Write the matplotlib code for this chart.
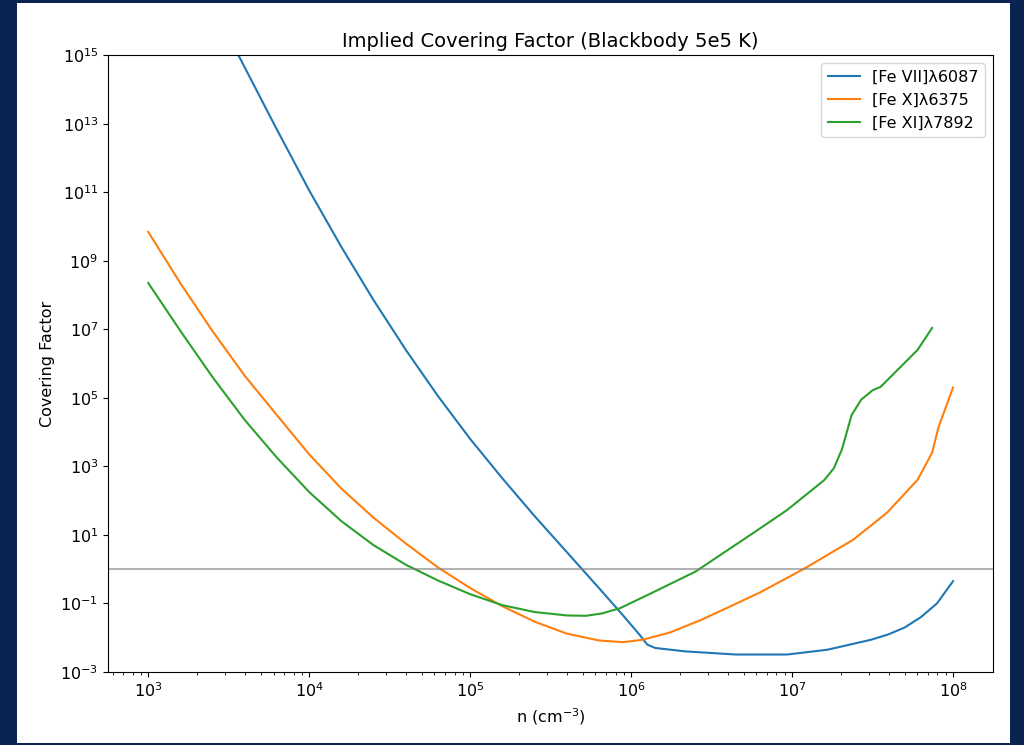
import numpy as np
import matplotlib
matplotlib.use("Agg")
import matplotlib.pyplot as plt
from matplotlib.patches import Rectangle

# log10 density and log10 covering factor
fe7_logn = [3.0, 3.56, 3.78, 4.0, 4.2, 4.4, 4.6, 4.8, 5.0, 5.2, 5.4, 5.6, 5.8,
            5.95, 6.05, 6.1, 6.15, 6.34, 6.65, 6.97, 7.22, 7.49, 7.6, 7.7, 7.8, 7.9, 8.0]
fe7_logc = [20.0, 15.0, 13.0, 11.05, 9.4, 7.85, 6.4, 5.05, 3.8, 2.65, 1.55, 0.5, -0.55,
            -1.35, -1.9, -2.2, -2.3, -2.4, -2.49, -2.49, -2.35, -2.06, -1.9, -1.7, -1.4,
            -1.0, -0.35]

fe10_logn = [3.0, 3.2, 3.4, 3.6, 3.8, 4.0, 4.2, 4.4, 4.6, 4.8, 5.0, 5.2, 5.4, 5.6,
             5.8, 5.95, 6.07, 6.24, 6.44, 6.6, 6.8, 7.07, 7.38, 7.59, 7.78, 7.87,
             7.91, 8.0]
fe10_logc = [9.84, 8.34, 6.94, 5.64, 4.49, 3.35, 2.35, 1.5, 0.75, 0.05, -0.55, -1.08,
             -1.53, -1.88, -2.08, -2.13, -2.06, -1.85, -1.47, -1.12, -0.68, 0.0, 0.86,
             1.65, 2.61, 3.4, 4.15, 5.3]

fe11_logn = [3.0, 3.2, 3.4, 3.6, 3.8, 4.0, 4.2, 4.4, 4.6, 4.8, 5.0, 5.2, 5.4, 5.6,
             5.72, 5.82, 5.93, 6.13, 6.4, 6.76, 6.97, 7.2, 7.26, 7.31, 7.37, 7.43,
             7.5, 7.55, 7.78, 7.87]
fe11_logc = [8.35, 6.95, 5.6, 4.35, 3.25, 2.25, 1.4, 0.7, 0.13, -0.33, -0.73, -1.05,
             -1.25, -1.35, -1.36, -1.29, -1.14, -0.69, -0.07, 1.06, 1.73, 2.6, 2.95,
             3.5, 4.5, 4.95, 5.22, 5.32, 6.4, 7.04]

labels = ["[Fe VII]λ6087", "[Fe X]λ6375", "[Fe XI]λ7892"]

plt.rcParams["font.size"] = 11.5

fig = plt.figure(figsize=(10.24, 7.45), dpi=100, facecolor="#0b2350")
# white card inside the navy frame (kept behind the axes)
fig.patches.append(Rectangle((17 / 1024, 2 / 745), 993 / 1024, 740 / 745,
                             transform=fig.transFigure, facecolor="white",
                             edgecolor="none", zorder=-10))
ax = fig.add_axes([0.1055, 0.098, 0.8645, 0.828])

for xs, ys, lab in zip([fe7_logn, fe10_logn, fe11_logn],
                       [fe7_logc, fe10_logc, fe11_logc], labels):
    ax.plot(10 ** np.array(xs), 10 ** np.array(ys), label=lab)

ax.axhline(1, color="gray", alpha=0.6)
ax.set_xscale("log")
ax.set_yscale("log")
ax.set_ylim(1e-3, 1e15)
ax.set_xlim(10 ** 2.75, 10 ** 8.25)
ax.set_xlabel("n (cm$^{-3}$)")
ax.set_ylabel("Covering Factor")
ax.set_title("Implied Covering Factor (Blackbody 5e5 K)", fontsize=14)
ax.legend(loc="upper right")

fig.savefig("out.png", dpi=100, facecolor=fig.get_facecolor())
